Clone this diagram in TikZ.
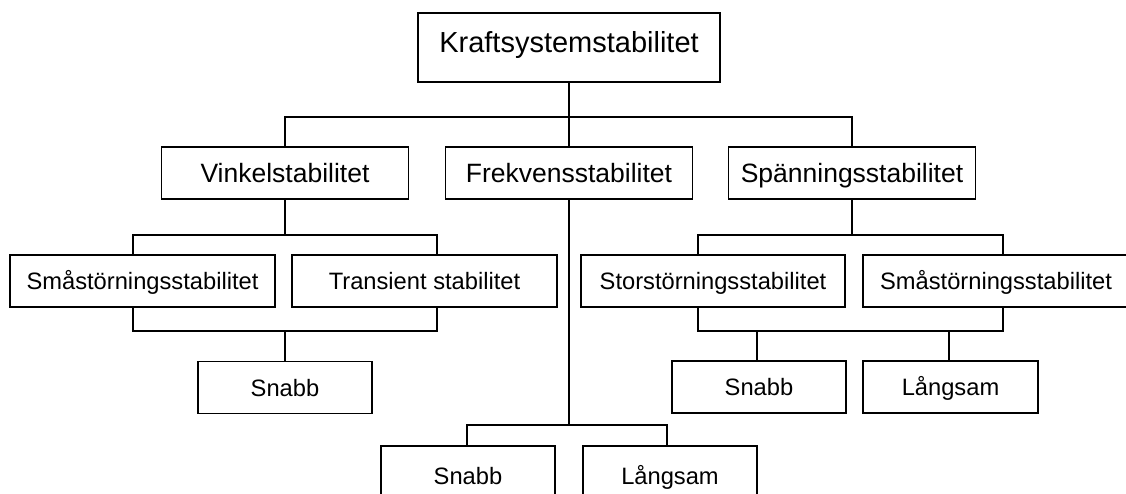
\documentclass[tikz,border=0pt]{standalone}
\usepackage{fontspec}
\setmainfont{Liberation Sans}
\begin{document}
\begin{tikzpicture}[x=1pt, y=-1pt,
  box/.style={draw, line width=1.8pt, rectangle, inner sep=0pt, align=center},
  lvlA/.style={box, font=\fontsize{29}{34}\selectfont, text height=20.8pt, text depth=11pt},
  lvlB/.style={box, font=\fontsize{26.5}{31}\selectfont, text height=19pt, text depth=0pt},
  lvlC/.style={box, font=\fontsize{23.7}{28}\selectfont, text height=17pt, text depth=0pt},
  link/.style={line width=1.8pt, line cap=rect}]
\useasboundingbox (0,0) rectangle (1126,494);
\clip (0,0) rectangle (1126,494);

% top level
\node[lvlA, minimum width=302pt, minimum height=69pt] (kraft) at (569,47.5) {Kraftsystemstabilitet};

% second level
\node[lvlB, minimum width=247pt, minimum height=52pt] (vink) at (285,173) {Vinkelstabilitet};
\node[lvlB, minimum width=247pt, minimum height=52pt] (frek) at (569,173) {Frekvensstabilitet};
\node[lvlB, minimum width=247pt, minimum height=52pt] (span) at (852,173) {Spänningsstabilitet};

% third level
\node[lvlC, minimum width=265pt, minimum height=52pt] (smaL) at (142.5,281) {Småstörningsstabilitet};
\node[lvlC, minimum width=265pt, minimum height=52pt] (trans) at (424.5,281) {Transient stabilitet};
\node[lvlC, minimum width=264pt, minimum height=52pt] (stor) at (713,281) {Storstörningsstabilitet};
\node[lvlC, minimum width=266pt, minimum height=52pt] (smaR) at (996,281) {Småstörningsstabilitet};

% fourth level
\node[lvlC, minimum width=174pt, minimum height=52pt] (snabbL) at (285,387.5) {Snabb};
\node[lvlC, minimum width=174pt, minimum height=52pt] (snabbR) at (759,387) {Snabb};
\node[lvlC, minimum width=175pt, minimum height=52pt] (langR) at (950.5,387) {Långsam};

% bottom row under the frequency branch
\node[lvlC, minimum width=174pt, minimum height=60pt] (snabbB) at (468,476) {Snabb};
\node[lvlC, minimum width=174pt, minimum height=60pt] (langB) at (670,476) {Långsam};

% junction points of the buses
\coordinate (j0) at (569,117);
\coordinate (va) at (133,235);  \coordinate (vb) at (437,235);
\coordinate (vc) at (133,331);  \coordinate (vd) at (437,331);
\coordinate (sa) at (698,235);  \coordinate (sb) at (1003,235);
\coordinate (sc) at (698,331);  \coordinate (sd) at (1003,331);
\coordinate (fb) at (569,425);
\coordinate (fl) at (467,425);  \coordinate (fr) at (667,425);

% top bus
\draw[link] (kraft.south) -- (j0);
\draw[link] (vink.north) |- (j0) -| (span.north);
\draw[link] (j0) -- (frek.north);

% angle stability branch
\draw[link] (vink.south) -- (vink.south |- va);
\draw[link] (smaL.north -| va) -- (va) -- (vb) -- (trans.north -| vb);
\draw[link] (smaL.south -| vc) -- (vc) -- (vd) -- (trans.south -| vd);
\draw[link] (snabbL.north) -- (snabbL.north |- vc);

% voltage stability branch
\draw[link] (span.south) -- (span.south |- sa);
\draw[link] (stor.north -| sa) -- (sa) -- (sb) -- (smaR.north -| sb);
\draw[link] (stor.south -| sc) -- (sc) -- (sd) -- (smaR.south -| sd);
\draw[link] (snabbR.north -| 757,0) -- (snabbR.north |- sc -| 757,0);
\draw[link] (langR.north -| 949,0) -- (langR.north |- sc -| 949,0);

% frequency stability branch
\draw[link] (frek.south) -- (fb);
\draw[link] (snabbB.north -| fl) -- (fl) -- (fr) -- (langB.north -| fr);
\end{tikzpicture}
\end{document}
